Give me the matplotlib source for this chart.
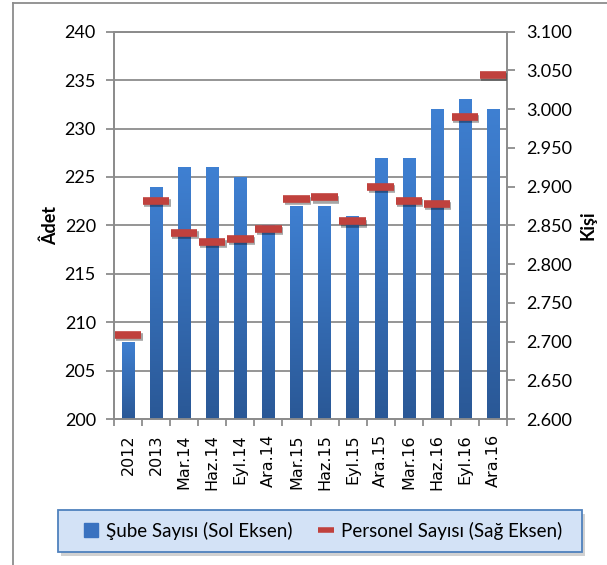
import matplotlib
matplotlib.use("Agg")
import matplotlib.pyplot as plt
import matplotlib.patheffects as pe
from matplotlib.lines import Line2D
from matplotlib.patches import Rectangle
import numpy as np

plt.rcParams['font.family'] = ['Lato', 'DejaVu Sans']

categories = ["2012", "2013", "Mar.14", "Haz.14", "Eyl.14", "Ara.14", "Mar.15",
              "Haz.15", "Eyl.15", "Ara.15", "Mar.16", "Haz.16", "Eyl.16", "Ara.16"]
sube = [208, 224, 226, 226, 225, 220, 222, 222, 221, 227, 227, 232, 233, 232]
personel = [2709, 2882, 2840, 2829, 2833, 2845, 2884, 2886, 2855, 2900, 2881, 2878, 2990, 3044]

grid_c = "#8c8c8c"
bar_top = "#3f80d2"
bar_bot = "#2a5896"
red = "#c0413d"

fig = plt.figure(figsize=(6.07, 5.65), dpi=100)
ax = fig.add_axes([114 / 607, 1 - 419 / 565, 393 / 607, 387.3 / 565])
ax2 = ax.twinx()

x = np.arange(len(categories))
bars = ax.bar(x, sube, width=0.44, color=bar_top, zorder=2)

# vertical gradient on each bar
grad = np.linspace(0, 1, 256).reshape(-1, 1)
cmap = matplotlib.colors.LinearSegmentedColormap.from_list("g", [bar_bot, bar_top])
for b in bars:
    x0, w, h = b.get_x(), b.get_width(), b.get_height()
    im = ax.imshow(grad, extent=(x0, x0 + w, 200, h), origin="lower", cmap=cmap,
                   aspect="auto", zorder=3)
    im.set_clip_path(b)

ax.set_xlim(-0.5, len(categories) - 0.5)
ax.set_ylim(200, 240)
ax.set_yticks(range(200, 241, 5))
ax.grid(axis="y", color=grid_c, linewidth=1.3, zorder=0)
ax.set_axisbelow(True)

ax.set_xticks(x)
ax.set_xticklabels(categories, rotation=90, fontsize=11.5, family=["DejaVu Sans"])
ax.set_xticks(np.arange(-0.5, len(categories), 1), minor=True)
ax.tick_params(axis="x", which="major", length=0, pad=11)
ax.tick_params(axis="x", which="minor", length=5, width=1.3, color=grid_c)
ax.tick_params(axis="y", length=6, width=1.3, color=grid_c, labelsize=13, pad=7)

ax2.plot(x, personel, linestyle="none", marker="_", markersize=19, markeredgewidth=5.5,
         color=red, zorder=5,
         path_effects=[pe.SimpleLineShadow(offset=(1, -1.5), alpha=0.35), pe.Normal()])
ax2.set_ylim(2600, 3100)
ax2.set_yticks(range(2600, 3101, 50))
ax2.set_yticklabels([f"{v / 1000:.3f}" for v in range(2600, 3101, 50)])
ax2.tick_params(axis="y", length=6, width=1.3, color=grid_c, labelsize=13, pad=8)

for a in (ax, ax2):
    for s in a.spines.values():
        s.set_color(grid_c)
        s.set_linewidth(1.3)

ax.set_ylabel("Âdet", fontsize=13, fontweight="bold", labelpad=4)
ax2.set_ylabel("Kişi", fontsize=13, fontweight="bold", labelpad=5)

# outer chart frame (left and top edges visible)
fig.add_artist(Line2D([13 / 607, 13 / 607], [0, 1 - 3 / 565], color=grid_c, lw=1.3,
                      transform=fig.transFigure))
fig.add_artist(Line2D([13 / 607, 1], [1 - 3 / 565, 1 - 3 / 565], color=grid_c, lw=1.3,
                      transform=fig.transFigure))

# legend box with shadow
lx0, lx1, ly0, ly1 = 58 / 607, 582 / 607, 1 - 552 / 565, 1 - 510 / 565
fig.add_artist(Rectangle((lx0 + 3 / 607, ly0 - 4 / 565), lx1 - lx0, ly1 - ly0,
                         transform=fig.transFigure, facecolor="#000000", alpha=0.18,
                         edgecolor="none"))
fig.add_artist(Rectangle((lx0, ly0), lx1 - lx0, ly1 - ly0, transform=fig.transFigure,
                         facecolor="#d3e2f6", edgecolor="#4f81bd", linewidth=1.3))

handles = [Line2D([], [], marker="s", color="#3a72c0", linestyle="none", markersize=10),
           Line2D([], [], marker="_", color=red, linestyle="none", markersize=12,
                  markeredgewidth=4)]
leg = fig.legend(handles, ["Şube Sayısı (Sol Eksen)", "Personel Sayısı (Sağ Eksen)"],
                 loc="center", bbox_to_anchor=(323 / 607, 1 - 531 / 565), ncol=2,
                 fontsize=13.5, frameon=False,
                 handlelength=0.8, handletextpad=0.4, columnspacing=1.4)

fig.savefig("out.png", dpi=100)
